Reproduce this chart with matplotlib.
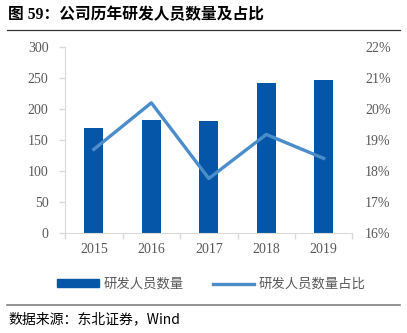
import numpy as np
import matplotlib.pyplot as plt
from matplotlib.lines import Line2D
from matplotlib.patches import Patch

plt.rcParams['font.family'] = ['Liberation Serif', 'Noto Sans CJK SC']
plt.rcParams['axes.unicode_minus'] = False

# 研发人员数量及占比
years = ['2015', '2016', '2017', '2018', '2019']
staff = [170, 183, 181, 242, 248]
ratio = [18.71, 20.21, 17.77, 19.19, 18.42]  # %

bar_color = '#0556A8'
line_color = '#4A8DCA'
axis_color = '#D9D9D9'
text_color = '#595959'
cjk = ['Noto Sans CJK SC', 'DejaVu Sans']

fig = plt.figure(figsize=(4.07, 3.33), dpi=100)
ax = fig.add_axes([0.160, 0.299, 0.706, 0.559])
x = np.arange(len(years))

ax.bar(x, staff, width=0.33, color=bar_color, zorder=2)
ax.set_xlim(-0.5, 4.5)
ax.set_ylim(0, 300)
ax.set_yticks(range(0, 301, 50))
ax.set_xticks(x)
ax.set_xticklabels(years)
ax.set_xticks(np.arange(-0.5, 5, 1), minor=True)
ax.tick_params(axis='x', which='major', length=0, pad=7, labelsize=10, labelcolor=text_color)
ax.tick_params(axis='x', which='minor', length=4, color=axis_color, width=1)
ax.tick_params(axis='y', length=4, color=axis_color, width=1, pad=8, labelsize=10, labelcolor=text_color)
for s in ['top', 'right']:
    ax.spines[s].set_visible(False)
for s in ['left', 'bottom']:
    ax.spines[s].set_color(axis_color)

ax2 = ax.twinx()
ax2.plot(x, ratio, color=line_color, lw=2.4, zorder=3)
ax2.set_ylim(16, 22)
ax2.set_yticks(range(16, 23))
ax2.set_yticklabels([f'{v}%' for v in range(16, 23)])
ax2.tick_params(axis='y', length=0, pad=9, labelsize=10, labelcolor=text_color)
for s in ax2.spines.values():
    s.set_visible(False)

# 图例
handles = [Patch(color=bar_color), Line2D([0], [0], color=line_color, lw=2.4)]
leg = fig.legend(handles, ['研发人员数量', '研发人员数量占比'], loc='center',
                 bbox_to_anchor=(0.52, 0.147), ncol=2, frameon=False,
                 handlelength=3.1, handleheight=0.55, columnspacing=2.2, handletextpad=0.35,
                 prop={'family': cjk, 'size': 9.6})
for t in leg.get_texts():
    t.set_color(text_color)

# 标题与来源
fig.text(0.02, 0.955, '图 59：公司历年研发人员数量及占比',
         family=['Liberation Serif', 'Noto Sans CJK SC'], fontsize=11.3,
         fontweight='bold', va='center', ha='left')
fig.add_artist(Line2D([0.018, 0.983], [0.91, 0.91], color='#333333', lw=0.9))
fig.add_artist(Line2D([0.018, 0.983], [0.084, 0.084], color='#808080', lw=1.2))
fig.text(0.02, 0.04, '数据来源：东北证券，Wind', family=cjk, fontsize=10,
         va='center', ha='left')

fig.savefig('out.png', dpi=100)
